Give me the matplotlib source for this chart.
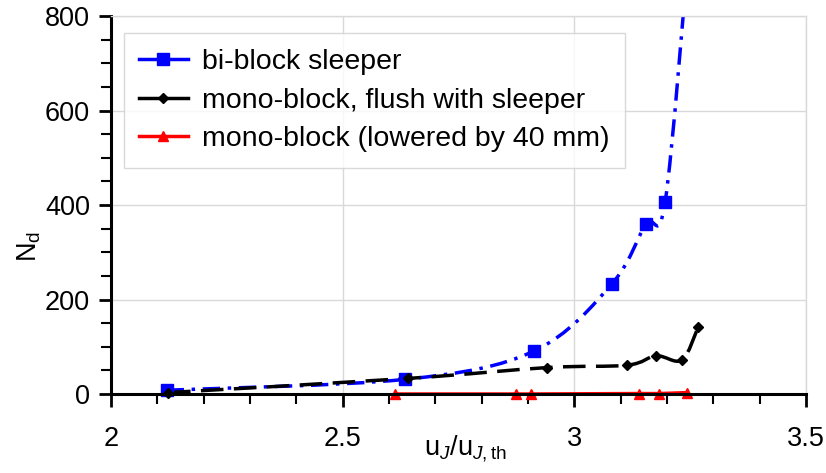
import numpy as np
import matplotlib
matplotlib.use("Agg")
import matplotlib.pyplot as plt
from matplotlib.ticker import MultipleLocator, FormatStrFormatter
from matplotlib.path import Path
from matplotlib.patches import PathPatch
from matplotlib.lines import Line2D

plt.rcParams['font.family'] = ['Liberation Sans', 'DejaVu Sans']
plt.rcParams['mathtext.fontset'] = 'custom'
plt.rcParams['mathtext.rm'] = 'Liberation Sans'
plt.rcParams['mathtext.it'] = 'Liberation Sans:italic'

# bi-block sleeper (last point is beyond the top of the axes)
bi_x = [2.12, 2.634, 2.913, 3.081, 3.154, 3.196, 3.248]
bi_y = [8, 31, 91, 233, 359, 407, 950]

# mono-block, flush with sleeper
mono_x = [2.123, 2.641, 2.942, 3.114, 3.176, 3.232, 3.267]
mono_y = [3, 33, 56, 61, 81, 72, 141]

# mono-block (lowered by 40 mm)
low_x = [2.614, 2.874, 2.906, 3.14, 3.182, 3.243]
low_y = [0, 0, 0, 1, 1, 3]

labels = ["bi-block sleeper", "mono-block, flush with sleeper",
          "mono-block (lowered by 40 mm)"]

fs = 19.5


# smooth line through the points, like Excel's "smoothed line"
# (cubic bezier segments, control points from neighbours)
def smooth_path(xs, ys, sx=1.5 / 695, sy=800 / 378):
    p = np.column_stack([np.array(xs) / sx, np.array(ys) / sy])
    verts = [p[0]]
    codes = [Path.MOVETO]
    n = len(p)
    for i in range(n - 1):
        p0 = p[i - 1] if i > 0 else p[i]
        p3 = p[i + 2] if i + 2 < n else p[i + 1]
        c1 = p[i] + (p[i + 1] - p0) / 6
        c2 = p[i + 1] - (p3 - p[i]) / 6
        verts += [c1, c2, p[i + 1]]
        codes += [Path.CURVE4] * 3
    v = np.array(verts) * [sx, sy]
    return Path(v, codes)


fig = plt.figure(figsize=(8.26, 4.73), dpi=100)
ax = fig.add_axes([0.1344, 0.167, 0.8414, 0.799])

series = [
    (bi_x, bi_y, '#0000ff', (0, (5, 2.2, 1, 2.2)), 's', 8),
    (mono_x, mono_y, 'black', (0, (6.5, 3)), 'D', 5.5),
    (low_x, low_y, '#ff0000', '-', '^', 7),
]
handles = []
for xs, ys, c, ls, m, ms in series:
    patch = PathPatch(smooth_path(xs, ys), fill=False, edgecolor=c,
                      lw=2.5, linestyle=ls, capstyle='butt')
    ax.add_patch(patch)
    ax.plot(xs, ys, ls='none', marker=m, ms=ms, color=c, clip_on=False)
    handles.append(Line2D([], [], color=c, lw=2.5, marker=m, ms=ms,
                          linestyle='-'))

ax.set_xlim(2, 3.5)
ax.set_ylim(0, 800)
ax.xaxis.set_major_locator(MultipleLocator(0.5))
ax.xaxis.set_minor_locator(MultipleLocator(0.1))
ax.xaxis.set_major_formatter(FormatStrFormatter('%g'))
ax.yaxis.set_major_locator(MultipleLocator(200))
ax.yaxis.set_minor_locator(MultipleLocator(50))
ax.tick_params(which='major', direction='out', length=9, width=2,
               labelsize=fs)
ax.tick_params(which='minor', direction='out', length=7, width=1.5)
ax.tick_params(axis='x', which='major', pad=14)
ax.tick_params(axis='y', which='major', pad=6)
ax.grid(True, which='major', color='#d9d9d9', lw=1)
for s in ['top', 'right']:
    ax.spines[s].set_color('#d9d9d9')
    ax.spines[s].set_linewidth(1)
for s in ['left', 'bottom']:
    ax.spines[s].set_linewidth(2.2)
ax.set_axisbelow(True)

ax.set_ylabel("N$_\\mathrm{d}$", fontsize=fs, va='center')
ax.yaxis.set_label_coords(-0.118, 0.39)
ax.set_xlabel("u$_J$/u$_{J,\\mathrm{th}}$", fontsize=fs, va='center')
ax.xaxis.set_label_coords(0.51, -0.145)

leg = ax.legend(handles, labels, loc='upper left',
                bbox_to_anchor=(0.018, 0.955), fontsize=20.5,
                frameon=True, fancybox=False, edgecolor='#d0d0d0',
                handlelength=1.7, handletextpad=0.5, borderpad=0.55,
                labelspacing=0.45, borderaxespad=0)
leg.get_frame().set_linewidth(1)

fig.savefig("out.png", dpi=100)
